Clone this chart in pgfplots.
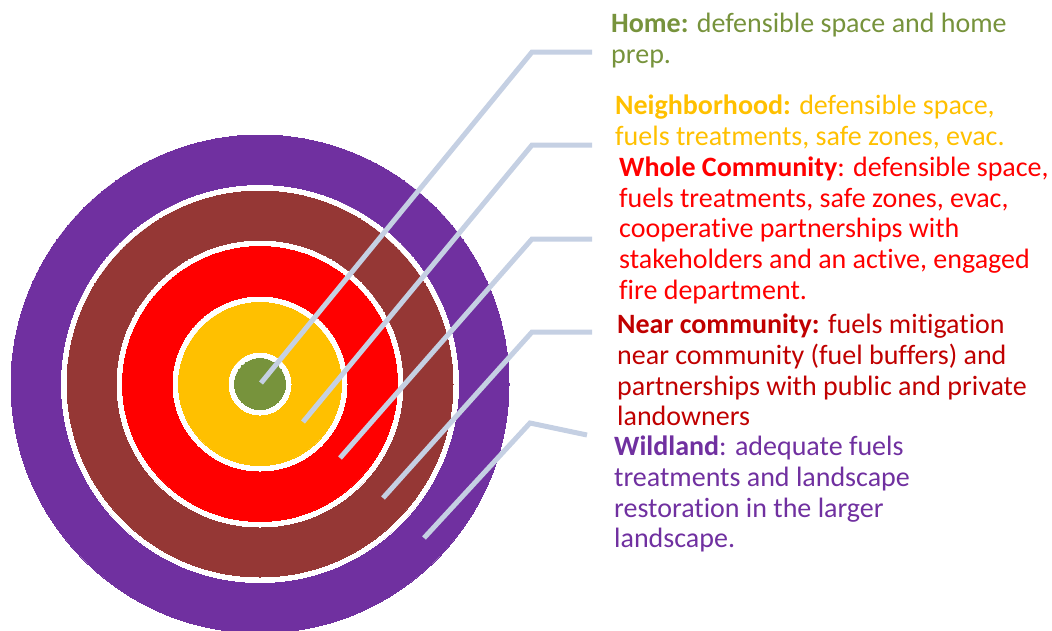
\documentclass[border=0pt]{standalone}
\usepackage{fontspec}
\setmainfont{Carlito}[Ligatures={NoCommon}]
\usepackage{pgfplots}
\pgfplotsset{compat=1.18}
\definecolor{cPurple}{HTML}{7030A0}
\definecolor{cBrown}{HTML}{953735}
\definecolor{cRed}{HTML}{FF0000}
\definecolor{cDarkRed}{HTML}{C00000}
\definecolor{cYellow}{HTML}{FFC000}
\definecolor{cGreen}{HTML}{77933C}
\definecolor{cLine}{HTML}{C5D0E3}
\begin{document}
\begin{tikzpicture}
\useasboundingbox (0,0) rectangle (1052pt,630pt);
\begin{axis}[
  at={(0,0)}, anchor=south west,
  hide axis, scale only axis,
  width=1052pt, height=630pt,
  xmin=0, xmax=1052, ymin=0, ymax=630,
  y dir=reverse, clip=false, clip marker paths=true,
  ring/.style={only marks, mark=*, color=#1, mark options={draw=#1, fill=#1, line width=0pt}},
]
% rings: centre (260,384), radii in px (=pt)
\addplot[ring=cPurple, mark size=249pt] coordinates {(260,384)};
\addplot[ring=white, mark size=198.5pt] coordinates {(260,384)};
\addplot[ring=cBrown, mark size=193pt] coordinates {(260,384)};
\addplot[ring=white, mark size=143pt] coordinates {(260,384)};
\addplot[ring=cRed, mark size=137.5pt] coordinates {(260,384)};
\addplot[ring=white, mark size=87pt] coordinates {(260,384)};
\addplot[ring=cYellow, mark size=81.5pt] coordinates {(260,384)};
\addplot[ring=white, mark size=31pt] coordinates {(260,384)};
\addplot[ring=cGreen, mark size=25.5pt] coordinates {(260,384)};
% leader lines
\addplot[cLine, line width=5pt, no marks] coordinates {(261,383) (532,52) (592,52)};
\addplot[cLine, line width=5pt, no marks] coordinates {(303,422) (532,145) (592,145)};
\addplot[cLine, line width=5pt, no marks] coordinates {(340,458) (532,239) (592,239)};
\addplot[cLine, line width=5pt, no marks] coordinates {(383,498) (532,332) (592,332)};
\addplot[cLine, line width=5pt, no marks] coordinates {(424,538) (530,423) (587,435)};
% texts
\tikzset{lbl/.style={anchor=base west, inner sep=0pt, font=\fontsize{28}{31}\selectfont}}
\node[lbl, text=cGreen] at (axis cs:611,32) {\textbf{Home:} defensible space and home};
\node[lbl, text=cGreen] at (axis cs:611,63) {prep.};
\node[lbl, text=cYellow] at (axis cs:615,114) {\textbf{Neighborhood:} defensible space,};
\node[lbl, text=cYellow] at (axis cs:615,145) {fuels treatments, safe zones, evac.};
\node[lbl, text=cRed] at (axis cs:619,176) {\textbf{Whole Community}: defensible space,};
\node[lbl, text=cRed] at (axis cs:619,207) {fuels treatments, safe zones, evac,};
\node[lbl, text=cRed] at (axis cs:619,237) {cooperative partnerships with};
\node[lbl, text=cRed] at (axis cs:619,268) {stakeholders and an active, engaged};
\node[lbl, text=cRed] at (axis cs:619,299) {fire department.};
\node[lbl, text=cDarkRed] at (axis cs:617,333) {\textbf{Near community:} fuels mitigation};
\node[lbl, text=cDarkRed] at (axis cs:617,364) {near community (fuel buffers) and};
\node[lbl, text=cDarkRed] at (axis cs:617,395) {partnerships with public and private};
\node[lbl, text=cDarkRed] at (axis cs:617,425) {landowners};
\node[lbl, text=cPurple] at (axis cs:614,455) {\textbf{Wildland}: adequate fuels};
\node[lbl, text=cPurple] at (axis cs:614,486) {treatments and landscape};
\node[lbl, text=cPurple] at (axis cs:614,517) {restoration in the larger};
\node[lbl, text=cPurple] at (axis cs:614,547) {landscape.};
\end{axis}
\end{tikzpicture}
\end{document}
